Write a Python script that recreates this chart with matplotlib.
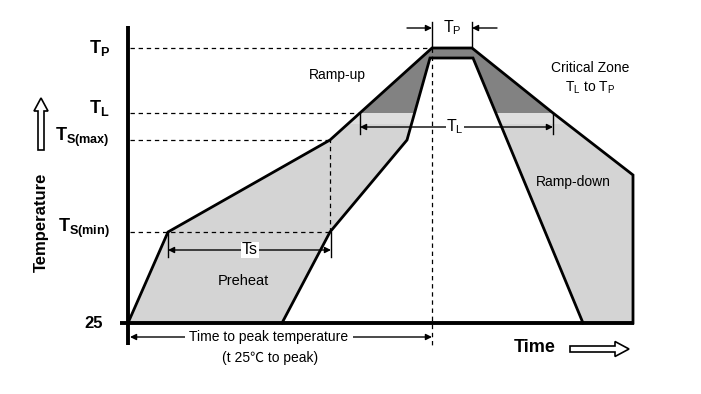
import matplotlib
matplotlib.use("Agg")
import matplotlib.pyplot as plt
from matplotlib.patches import Polygon, Rectangle, FancyArrow

plt.rcParams['font.family'] = ['Liberation Sans', 'Noto Sans CJK SC', 'DejaVu Sans']
plt.rcParams['mathtext.fontset'] = 'custom'
plt.rcParams['mathtext.rm'] = 'Liberation Sans'
plt.rcParams['mathtext.it'] = 'Liberation Sans'
plt.rcParams['mathtext.bf'] = 'Liberation Sans:bold'

# ---- data (time units from origin, temperature as height above 25 °C) ----
level_names = [r'$\mathbf{T_{P}}$', r'$\mathbf{T_{L}}$', r'$\mathbf{T_{S(max)}}$', r'$\mathbf{T_{S(min)}}$', '25']
level_values = [275, 210, 183, 91, 0]
T_P, T_L, TS_MAX, TS_MIN, T25 = level_values

# outer (upper/slow) profile boundary
outer_t = [0, 40, 202, 304, 344, 425, 505, 505]
outer_h = [0, 91, 183, 275, 275, 210, 148, 0]
# inner (lower/fast) profile boundary
inner_t = [154, 202, 279, 302, 345, 455]
inner_h = [0, 91, 183, 265, 265, 0]

# key times
t_ts_start, t_ts_end = 40, 202
t_tl_start, t_tl_end = 232, 425
t_peak_start, t_peak_end = 304, 344
t_end = 505

light = '#d4d4d4'
darkc = '#828282'
pale = '#dedede'

fig = plt.figure(figsize=(7.01, 3.94), dpi=100)
ax = fig.add_axes([0, 0, 1, 1])
ax.set_xlim(-128, 573)
ax.set_ylim(-71, 323)
ax.axis('off')

band = Polygon(list(zip(outer_t, outer_h)) + list(zip(inner_t[::-1], inner_h[::-1])),
               closed=True, fc=light, ec='none', zorder=1)
ax.add_patch(band)
dk = Rectangle((-20, T_L), 600, 120, fc=darkc, ec='none', zorder=2)
ax.add_patch(dk)
dk.set_clip_path(band)
pl = Rectangle((-20, T_L - 11), 600, 11, fc=pale, ec='none', zorder=2)
ax.add_patch(pl)
pl.set_clip_path(band)

ax.plot(outer_t, outer_h, color='k', lw=2.0, zorder=5, solid_joinstyle='miter')
ax.plot(inner_t, inner_h, color='k', lw=2.0, zorder=5, solid_joinstyle='miter')

# axes
ax.plot([0, 0], [-22, 297], color='k', lw=2.8, zorder=6, solid_capstyle='butt')
ax.plot([-8, t_end + 1], [0, 0], color='k', lw=2.8, zorder=6, solid_capstyle='butt')

dash = dict(color='k', lw=0.9, ls=(0, (3.5, 3)), zorder=4)
ax.plot([2, t_peak_start], [T_P, T_P], **dash)
ax.plot([2, t_tl_start], [T_L, T_L], **dash)
ax.plot([2, t_ts_end], [TS_MAX, TS_MAX], **dash)
ax.plot([2, t_ts_end], [TS_MIN, TS_MIN], **dash)
ax.plot([t_ts_end, t_ts_end], [TS_MIN, TS_MAX], **dash)
ax.plot([t_peak_start, t_peak_start], [T_P, -24], **dash)

# level labels
for name, v, dy in zip(level_names, level_values, [0, 5, 3, 4, 0]):
    fs = 12 if name == '25' else 13
    ax.text(-18 if name != '25' else -25, v + dy, name, ha='right', va='center',
            fontsize=fs, fontweight='bold', zorder=7)

aprops = dict(arrowstyle='-|>', color='k', lw=1.0, mutation_scale=9, shrinkA=0, shrinkB=0)
aprops2 = dict(arrowstyle='<|-|>', color='k', lw=1.0, mutation_scale=9, shrinkA=0, shrinkB=0)

# Tp dimension
yp = 295
ax.plot([t_peak_start, t_peak_start], [T_P, yp + 6], color='k', lw=1.0)
ax.plot([t_peak_end, t_peak_end], [T_P, yp + 6], color='k', lw=1.0)
ax.annotate('', xy=(t_peak_start, yp), xytext=(t_peak_start - 25, yp), arrowprops=aprops)
ax.annotate('', xy=(t_peak_end, yp), xytext=(t_peak_end + 25, yp), arrowprops=aprops)
ax.text((t_peak_start + t_peak_end) / 2, yp, r'$\mathrm{T_P}$', ha='center', va='center', fontsize=11.5,
        bbox=dict(fc='white', ec='none', pad=0.5), zorder=8)

# TL dimension
yl = 196
ax.plot([t_tl_start, t_tl_start], [T_L, yl - 7], color='k', lw=1.0, zorder=6)
ax.plot([t_tl_end, t_tl_end], [T_L, yl - 7], color='k', lw=1.0, zorder=6)
ax.annotate('', xy=(t_tl_end, yl), xytext=(t_tl_start, yl), arrowprops=aprops2, zorder=6)
ax.text(327, yl, r'$\mathrm{T_L}$', ha='center', va='center', fontsize=11.5,
        bbox=dict(fc='white', ec='none', pad=0.5), zorder=8)

# Ts dimension
ys = 73
ax.plot([t_ts_start, t_ts_start], [TS_MIN, ys - 7], color='k', lw=1.0, zorder=6)
ax.plot([t_ts_end + 1, t_ts_end + 1], [TS_MIN, ys - 7], color='k', lw=1.0, zorder=6)
ax.annotate('', xy=(t_ts_end + 1, ys), xytext=(t_ts_start, ys), arrowprops=aprops2, zorder=6)
ax.text(122, ys, 'Ts', ha='center', va='center', fontsize=11.5,
        bbox=dict(fc='white', ec='none', pad=0.5), zorder=8)

# time to peak
yt = -14
ax.annotate('', xy=(t_peak_start, yt), xytext=(2, yt), arrowprops=aprops2)
ax.text(141, yt, 'Time to peak temperature', ha='center', va='center', fontsize=10,
        bbox=dict(fc='white', ec='none', pad=3), zorder=8)
ax.text(142, -35, '(t 25\u2103 to peak)', ha='center', va='center', fontsize=10)

# region texts
ax.text(209, 248, 'Ramp-up', ha='center', va='center', fontsize=10)
ax.text(462, 255, 'Critical Zone', ha='center', va='center', fontsize=10)
ax.text(462, 235, r'$\mathrm{T_L}$ to $\mathrm{T_P}$', ha='center', va='center', fontsize=10)
ax.text(445, 141, 'Ramp-down', ha='center', va='center', fontsize=10)
ax.text(115, 42, 'Preheat', ha='center', va='center', fontsize=10.5)

# axis titles
ax.text(-87, 101, 'Temperature', rotation=90, ha='center', va='center', fontsize=12, fontweight='bold')
ax.text(407, -24, 'Time', ha='center', va='center', fontsize=13, fontweight='bold')

ax.add_patch(FancyArrow(-87, 173, 0, 52, width=6, head_width=14, head_length=13,
                        length_includes_head=True, fc='white', ec='k', lw=1.2))
ax.add_patch(FancyArrow(442, -26, 59, 0, width=6, head_width=15, head_length=14,
                        length_includes_head=True, fc='white', ec='k', lw=1.2))

fig.savefig('out.png', dpi=100)
